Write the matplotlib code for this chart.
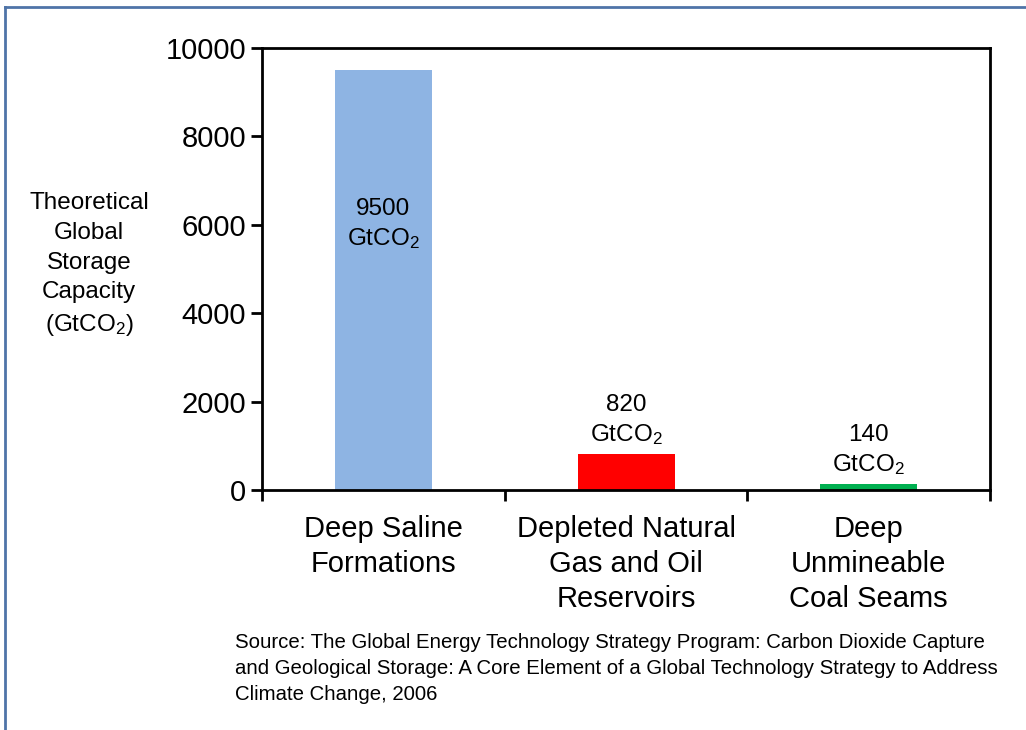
import matplotlib.pyplot as plt
from matplotlib.lines import Line2D
import numpy as np

plt.rcParams['font.family'] = ['Liberation Sans', 'DejaVu Sans']
plt.rcParams['mathtext.fontset'] = 'custom'
plt.rcParams['mathtext.rm'] = 'Liberation Sans'
plt.rcParams['mathtext.it'] = 'Liberation Sans'

categories = ['Deep Saline\nFormations', 'Depleted Natural\nGas and Oil\nReservoirs',
              'Deep\nUnmineable\nCoal Seams']
capacity = [9500, 820, 140]
bar_colors = ['#8EB4E3', '#FF0000', '#00B050']
yticks = [0, 2000, 4000, 6000, 8000, 10000]
source = ("Source: The Global Energy Technology Strategy Program: Carbon Dioxide Capture\n"
          "and Geological Storage: A Core Element of a Global Technology Strategy to Address\n"
          "Climate Change, 2006")

fig = plt.figure(figsize=(10.26, 7.3), dpi=100)
ax = fig.add_axes([0.2554, 0.3288, 0.7096, 0.6055])

x = np.arange(len(categories))
ax.bar(x, capacity, width=0.4, color=bar_colors)
ax.set_xlim(-0.5, len(categories) - 0.5)
ax.set_ylim(0, 10000)
ax.set_yticks(yticks)
ax.set_yticklabels([str(v) for v in yticks], fontsize=21)
ax.set_xticks(np.arange(len(categories) + 1) - 0.5)
ax.set_xticklabels([])
ax.set_xticks(x, minor=True)
ax.set_xticklabels(categories, minor=True, fontsize=21, linespacing=1.31)
ax.tick_params(axis='x', which='minor', length=0, pad=18)
ax.tick_params(axis='both', which='major', direction='out', length=8, width=2)
for s in ax.spines.values():
    s.set_linewidth(2)

# value labels
for i, v in enumerate(capacity):
    txt = f"{v}\nGtCO$_2$"
    if i == 0:
        ax.text(i, 6000, txt, ha='center', va='center', fontsize=17.5, linespacing=1.3)
    else:
        ax.annotate(txt, (i, v), xytext=(0, 5), textcoords='offset points',
                    ha='center', va='bottom', fontsize=17.5, linespacing=1.3)

fig.text(89 / 1026, 1 - 265 / 730, "Theoretical\nGlobal\nStorage\nCapacity\n(GtCO$_2$)",
         ha='center', va='center', fontsize=17.5, linespacing=1.45)

fig.text(235 / 1026, 1 - 633 / 730, source, ha='left', va='top', fontsize=14.7, linespacing=1.45)

# slide frame
frame_col = '#4F74A8'
fig.add_artist(Line2D([5 / 1026, 5 / 1026], [0, 1 - 7 / 730], color=frame_col, lw=2))
fig.add_artist(Line2D([5 / 1026, 1], [1 - 7 / 730, 1 - 7 / 730], color=frame_col, lw=2))

fig.savefig('out.png', dpi=100)
